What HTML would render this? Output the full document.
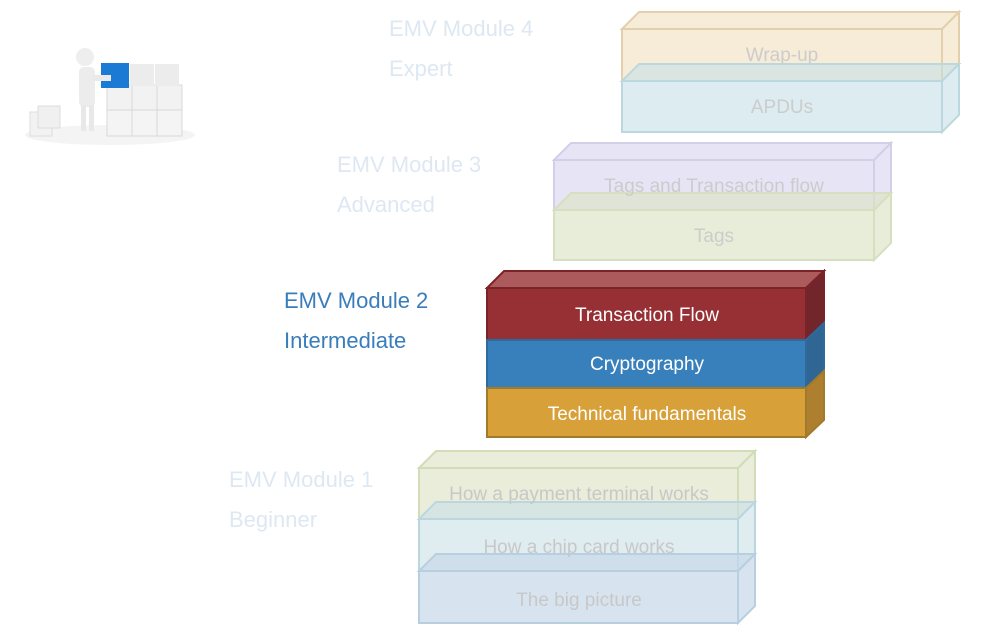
<!DOCTYPE html>
<html><head><meta charset="utf-8"><style>
html,body{margin:0;padding:0;background:#fff;}
svg{display:block}
text{font-family:"Liberation Sans",Arial,sans-serif}
</style></head><body>
<svg width="1000" height="634" viewBox="0 0 1000 634" xmlns="http://www.w3.org/2000/svg">
<g>
<ellipse cx="110" cy="135" rx="85" ry="10" fill="#f4f4f4"/>
<rect x="107" y="85" width="25" height="25" fill="#f2f2f2" stroke="#d8d8d8"/>
<rect x="132" y="85" width="25" height="25" fill="#f2f2f2" stroke="#d8d8d8"/>
<rect x="157" y="85" width="25" height="25" fill="#f2f2f2" stroke="#d8d8d8"/>
<rect x="107" y="110" width="25" height="26" fill="#f4f4f4" stroke="#d8d8d8"/>
<rect x="132" y="110" width="25" height="26" fill="#f4f4f4" stroke="#d8d8d8"/>
<rect x="157" y="110" width="25" height="26" fill="#f4f4f4" stroke="#d8d8d8"/>
<rect x="130" y="64" width="24" height="22" fill="#ececec"/>
<rect x="155" y="64" width="24" height="22" fill="#ececec"/>
<rect x="101" y="63" width="28" height="25" fill="#1a7ad4"/>
<circle cx="85" cy="57" r="9" fill="#eeeeee"/>
<rect x="79" y="67" width="16" height="40" rx="5" fill="#ececec"/>
<rect x="81" y="105" width="5" height="26" fill="#e8e8e8"/>
<rect x="89" y="105" width="5" height="26" fill="#e8e8e8"/>
<rect x="93" y="75" width="18" height="6" fill="#eaeaea"/>
<rect x="30" y="112" width="22" height="24" fill="#f2f2f2" stroke="#dddddd"/>
<rect x="38" y="106" width="22" height="22" fill="#f0f0f0" stroke="#dddddd"/>
</g>

<g font-size="22">
<text x="389" y="36" fill="#dde8f3">EMV Module 4</text>
<text x="389" y="76" fill="#dde8f3">Expert</text>
<text x="337" y="172" fill="#dde8f3">EMV Module 3</text>
<text x="337" y="212" fill="#dde8f3">Advanced</text>
<text x="284" y="308" fill="#3a7dbb">EMV Module 2</text>
<text x="284" y="348" fill="#3a7dbb">Intermediate</text>
<text x="229" y="487" fill="#dde8f3">EMV Module 1</text>
<text x="229" y="527" fill="#dde8f3">Beginner</text>
</g>

<g stroke-width="2">
<g fill="#f3e4c6" fill-opacity="0.7" stroke="#e2d0ac">
<rect x="622" y="29" width="320" height="52"/>
<polygon points="622,29 639,12 959,12 942,29"/>
<polygon points="942,29 959,12 959,64 942,81"/>
</g>
<g fill="#c7e0e6" fill-opacity="0.6" stroke="#bcd8df">
<rect x="622" y="81" width="320" height="51"/>
<polygon points="622,81 639,64 959,64 942,81"/>
<polygon points="942,81 959,64 959,115 942,132"/>
</g>
</g>
<text x="782" y="61" font-size="19" fill="#cccccc" text-anchor="middle">Wrap-up</text>
<text x="782" y="113" font-size="19" fill="#cccccc" text-anchor="middle">APDUs</text>

<g stroke-width="2">
<g fill="#d9d6f0" fill-opacity="0.65" stroke="#d2cfe8">
<rect x="554" y="160" width="320" height="50"/>
<polygon points="554,160 571,143 891,143 874,160"/>
<polygon points="874,160 891,143 891,193 874,210"/>
</g>
<g fill="#dbe3c4" fill-opacity="0.65" stroke="#d6dfbf">
<rect x="554" y="210" width="320" height="50"/>
<polygon points="554,210 571,193 891,193 874,210"/>
<polygon points="874,210 891,193 891,243 874,260"/>
</g>
</g>
<text x="714" y="192" font-size="19" fill="#cccccc" text-anchor="middle">Tags and Transaction flow</text>
<text x="714" y="242" font-size="19" fill="#cccccc" text-anchor="middle">Tags</text>

<g stroke-width="2">
<rect x="487" y="288" width="319" height="52" fill="#963034" stroke="#7a2428"/>
<polygon points="487,288 504,271 824,271 806,288" fill="#ac5a5c" stroke="#7a2428"/>
<polygon points="806,288 824,271 824,323 806,340" fill="#72252a" stroke="#7a2428"/>
<rect x="487" y="340" width="319" height="48" fill="#3880bc" stroke="#2e6a9c"/>
<polygon points="806,340 824,323 824,371 806,388" fill="#2f6693" stroke="#2e6a9c"/>
<rect x="487" y="388" width="319" height="49" fill="#d7a038" stroke="#a27a2c"/>
<polygon points="806,388 824,371 824,420 806,437" fill="#ad7f2f" stroke="#a27a2c"/>
</g>
<g font-size="19" fill="#ffffff" text-anchor="middle">
<text x="647" y="321">Transaction Flow</text>
<text x="647" y="370">Cryptography</text>
<text x="647" y="420">Technical fundamentals</text>
</g>

<g stroke-width="2">
<g fill="#dde4c4" fill-opacity="0.65" stroke="#d2dcb8">
<rect x="419" y="468" width="319" height="51"/>
<polygon points="419,468 436,451 755,451 738,468"/>
<polygon points="738,468 755,451 755,502 738,519"/>
</g>
<g fill="#c9e0e6" fill-opacity="0.6" stroke="#bcd6e0">
<rect x="419" y="519" width="319" height="52"/>
<polygon points="419,519 436,502 755,502 738,519"/>
<polygon points="738,519 755,502 755,554 738,571"/>
</g>
<g fill="#c6d9e8" fill-opacity="0.7" stroke="#b8cfe0">
<rect x="419" y="571" width="319" height="52"/>
<polygon points="419,571 436,554 755,554 738,571"/>
<polygon points="738,571 755,554 755,606 738,623"/>
</g>
</g>
<g font-size="19" fill="#c8c8c8" text-anchor="middle">
<text x="579" y="500">How a payment terminal works</text>
<text x="579" y="553">How a chip card works</text>
<text x="579" y="606">The big picture</text>
</g>
</svg>
</body></html>
